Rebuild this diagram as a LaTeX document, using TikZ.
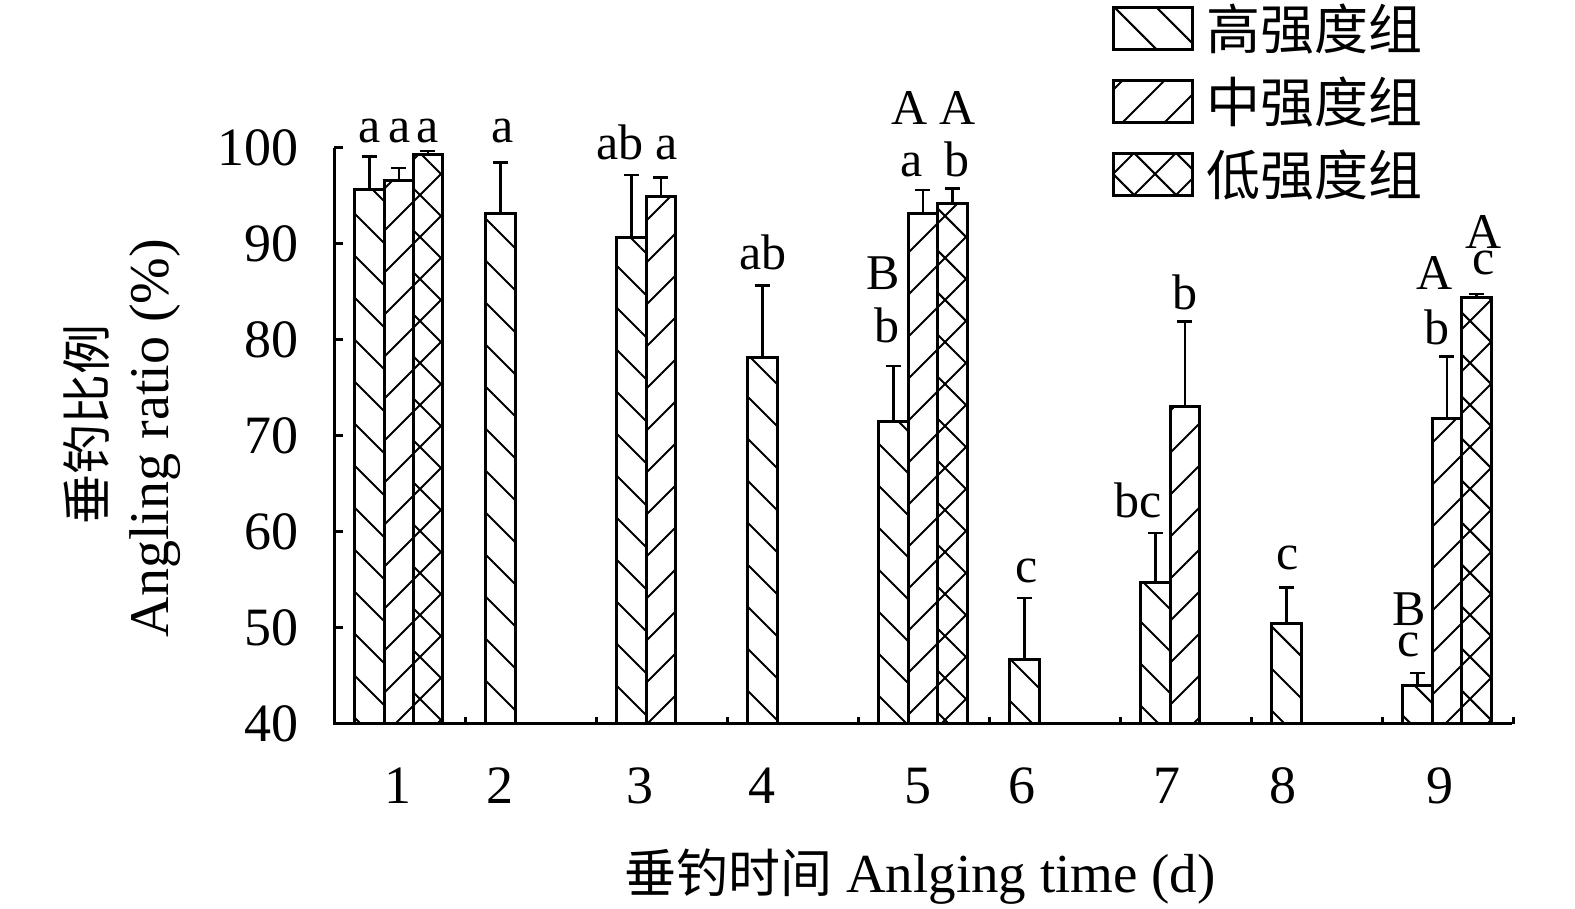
\documentclass[tikz,border=0pt]{standalone}
\usepackage{fontspec}
\setmainfont{Liberation Serif}
\newfontfamily\cjk{Noto Sans CJK SC}
\usetikzlibrary{patterns.meta,positioning}
\tikzset{
  axisline/.style={line width=3pt},
  barbox/.style={draw, line width=3pt},
  hibar/.style={barbox, pattern={Lines[angle=-45,distance=29.7pt,line width=2pt]}},
  midbar/.style={barbox, pattern={Lines[angle=45,distance=29.7pt,line width=2pt]}},
  lowbar/.style={barbox, pattern={Hatch[angle=45,distance=29.7pt,line width=2pt]}},
  errline/.style={line width=2.5pt},
  legbox/.style={minimum width=79pt, minimum height=42pt, inner sep=0pt},
  siglab/.style={anchor=base, inner sep=0pt, font=\fontsize{50}{50}\selectfont},
  stacklab/.style={anchor=south, inner sep=0pt, align=center},
  ticklab/.style={inner sep=0pt, font=\fontsize{54}{54}\selectfont},
  legtext/.style={inner sep=0pt, font=\cjk\fontsize{54}{54}\selectfont},
}
\begin{document}
\begin{tikzpicture}[x=1pt, y=1pt]
			\useasboundingbox (0,0) rectangle (1575,909);
			%\draw[help lines, color=gray!30] (0,0) grid[step=100pt] (1575,909);
			\begin{scope}[y=9.6pt, yshift=-199pt]
			% high intensity
			\foreach \xl/\v/\e in {354.5/95.7/99.1, 485.5/93.2/98.5, 616.5/90.7/97.2, 747.5/78.2/85.7, 878.5/71.5/77.3, 1009.5/46.7/53.1, 1140.5/54.7/59.9, 1271.5/50.5/54.2, 1402.5/44.0/45.3}{
				\draw[hibar] (\xl,40) rectangle (\xl+29.5,\v);
				\draw[errline] (\xl+14.75,\v) -- (\xl+14.75,\e) ++(-7.5,0) -- ++(15,0);
			}
			% medium intensity
			\foreach \xl/\v/\e in {384/96.6/97.9, 646/94.9/96.9, 908/93.2/95.6, 1170/73.1/81.9, 1432/71.8/78.3}{
				\draw[midbar] (\xl,40) rectangle (\xl+29.5,\v);
				\draw[errline] (\xl+14.75,\v) -- (\xl+14.75,\e) ++(-7.5,0) -- ++(15,0);
			}
			% low intensity
			\foreach \xl/\v/\e in {413/99.3/99.7, 937.5/94.2/95.8, 1461.5/84.4/84.8}{
				\draw[lowbar] (\xl,40) rectangle (\xl+29.5,\v);
				\draw[errline] (\xl+14.75,\v) -- (\xl+14.75,\e) ++(-7.5,0) -- ++(15,0);
			}
			% axes
			\draw[axisline] (334,100) -- (334,40) -- (1512,40);
			\foreach \v in {40,50,...,100}{
				\draw[axisline] (334,\v) -- (343,\v);
				\node[ticklab, anchor=east] (ylab\v) at (299,\v) {\v};
			}
			\foreach \k in {1,...,9}
				\draw[axisline] (334+131*\k,40) -- ++(0,0.75);
			\end{scope}
			\foreach \t/\x in {1/398, 2/500, 3/640, 4/762, 5/918, 6/1022, 7/1167, 8/1283, 9/1440}
				\node[ticklab, anchor=base] (xlab\t) at (\x,105) {\t};
			% significance letters
			\foreach \x/\y/\s [count=\i] in {370/766/a, 400/766/a, 428/766/a, 503/766/a, 620/749/ab, 667/749/a, 763/639/ab, 883/619/B, 887/566/b, 910/784/A, 912/732/a, 958/784/A, 957/732/b, 1027/326/c, 1138/391/bc, 1185/599/b, 1288/339/c, 1435/619/A, 1437/564/b}
				\node[siglab] (sig\i) at (\x,\y) {\s};
			\node[stacklab, font=\fontsize{50}{26}\selectfont] (sigtop) at (1484,634) {A\\c};
			\node[stacklab, font=\fontsize{50}{31}\selectfont] (siglow) at (1409,252) {B\\c};
			% titles
			\node[rotate=90, inner sep=0pt, font=\cjk\fontsize{50}{50}\selectfont] (ytitlecn) at (87,484) {垂钓比例};
			\node[rotate=90, ticklab, font=\fontsize{56}{56}\selectfont] (ytitleen) at (155,471) {Angling ratio (\%)};
			\node[anchor=base, inner sep=0pt, font=\fontsize{55}{55}\selectfont] (xtitle) at (920,16) {{\cjk\fontsize{52}{52}\selectfont 垂钓时间} Anlging time (d)};
			% legend
			\node[hibar, legbox] (boxhi) at (1152.5,880) {};
			\node[midbar, legbox] (boxmid) at (1152.5,807) {};
			\node[lowbar, legbox] (boxlow) at (1152.5,734) {};
			\node[legtext, right=13pt of boxhi] (texthi) {高强度组};
			\node[legtext, right=13pt of boxmid] (textmid) {中强度组};
			\node[legtext, right=13pt of boxlow] (textlow) {低强度组};
\end{tikzpicture}
\end{document}
